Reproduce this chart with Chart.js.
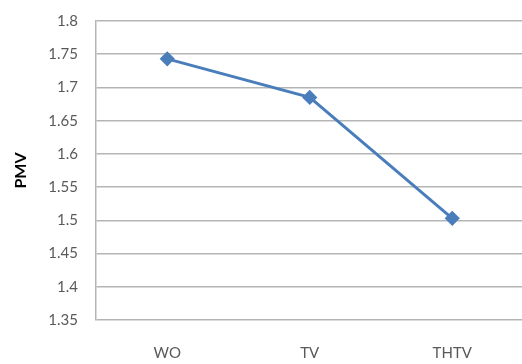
<!DOCTYPE html>
<html>
<head>
<meta charset="utf-8">
<script src="https://cdn.jsdelivr.net/npm/chart.js@4/dist/chart.umd.min.js"></script>
<style>
  html, body { margin: 0; padding: 0; background: #fff; overflow: hidden; }
  #wrap { width: 532px; height: 370px; margin-top: -6px; }
</style>
</head>
<body>
<div id="wrap"><canvas id="c" width="532" height="370"></canvas></div>
<script>
// PMV by configuration
const categories = ['WO', 'TV', 'THTV'];
const pmvValues = [1.743, 1.685, 1.503];
const yTicks = [1.35, 1.4, 1.45, 1.5, 1.55, 1.6, 1.65, 1.7, 1.75, 1.8];

const labelFont = { family: 'Lato, "Open Sans", sans-serif', size: 15 };

new Chart(document.getElementById('c'), {
  type: 'line',
  data: {
    labels: categories,
    datasets: [{
      data: pmvValues,
      borderColor: '#4a7ebb',
      backgroundColor: '#4a7ebb',
      borderWidth: 3,
      pointStyle: 'rectRot',
      pointRadius: 5.5,
      pointHoverRadius: 5.5,
      tension: 0,
      fill: false
    }]
  },
  options: {
    responsive: false,
    animation: false,
    layout: { padding: { left: 0, top: 14, right: 4, bottom: 0 } },
    plugins: { legend: { display: false }, tooltip: { enabled: false } },
    scales: {
      x: {
        offset: true,
        grid: { display: false, drawTicks: false },
        border: { display: false },
        ticks: { color: '#595959', font: labelFont, padding: 24 },
        afterFit(scale) { scale.height = 44; }
      },
      y: {
        min: yTicks[0],
        max: yTicks[yTicks.length - 1],
        afterBuildTicks(scale) { scale.ticks = yTicks.map(v => ({ value: v })); },
        grid: { color: '#b5b5b5', lineWidth: 1.5, drawTicks: false },
        border: { display: true, color: '#b5b5b5', width: 1.5 },
        ticks: {
          color: '#595959',
          font: labelFont,
          padding: 18,
          callback: v => String(+v.toFixed(2))
        },
        title: {
          display: true,
          text: 'PMV',
          color: '#000',
          font: { family: 'Lato, "Open Sans", sans-serif', size: 16, weight: 'bold' },
          padding: { top: 11, bottom: 0 }
        },
        afterFit(scale) { scale.width = 96; }
      }
    }
  }
});
</script>
</body>
</html>
